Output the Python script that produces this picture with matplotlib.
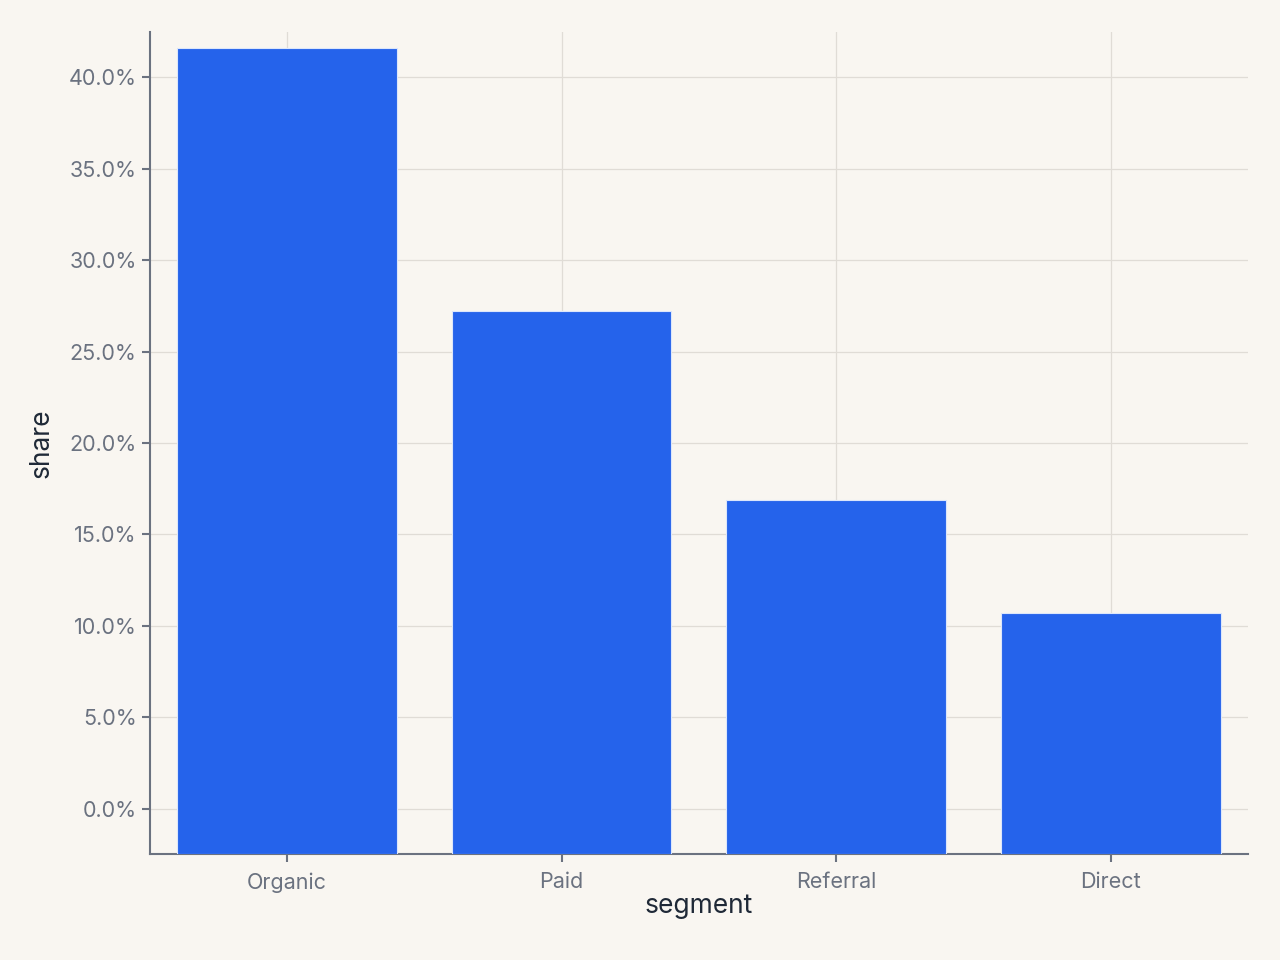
import matplotlib
matplotlib.use("Agg")
import matplotlib.pyplot as plt
from matplotlib.ticker import PercentFormatter

# data
segments = ["Organic", "Paid", "Referral", "Direct"]
share = [0.416, 0.272, 0.169, 0.107]

plt.rcParams['font.family'] = ['Inter', 'DejaVu Sans']

bg = "#F9F6F1"
fig = plt.figure(figsize=(12.8, 9.6), dpi=100, facecolor=bg)
ax = fig.add_axes([0.117, 0.110, 0.858, 0.857], facecolor=bg)

ymin, ymax = -0.025, 0.425
x = range(len(segments))
ax.bar(x, [v - ymin for v in share], bottom=ymin, width=0.8,
       color="#2563EB", edgecolor="#DCE6FB", linewidth=0.8, zorder=3)

ax.set_ylim(ymin, ymax)
ax.set_xlim(-0.5, 3.5)
ax.set_xticks(list(x))
ax.set_xticklabels(segments)
ax.set_yticks([i * 0.05 for i in range(9)])
ax.yaxis.set_major_formatter(PercentFormatter(1.0, decimals=1))

ax.grid(True, color="#E0DCD6", linewidth=0.9, zorder=0)
ax.set_axisbelow(True)

for side in ["top", "right"]:
    ax.spines[side].set_visible(False)
for side in ["left", "bottom"]:
    ax.spines[side].set_color("#6B7280")
    ax.spines[side].set_linewidth(1.5)

ax.tick_params(axis="both", colors="#6B7280", labelsize=15.5, length=6, width=1.5)
ax.tick_params(axis="x", pad=7)
ax.set_xlabel("segment", fontsize=19, color="#1F2937", labelpad=0)
ax.set_ylabel("share", fontsize=19, color="#1F2937", labelpad=10)

fig.savefig("out.png", dpi=100, facecolor=bg)
